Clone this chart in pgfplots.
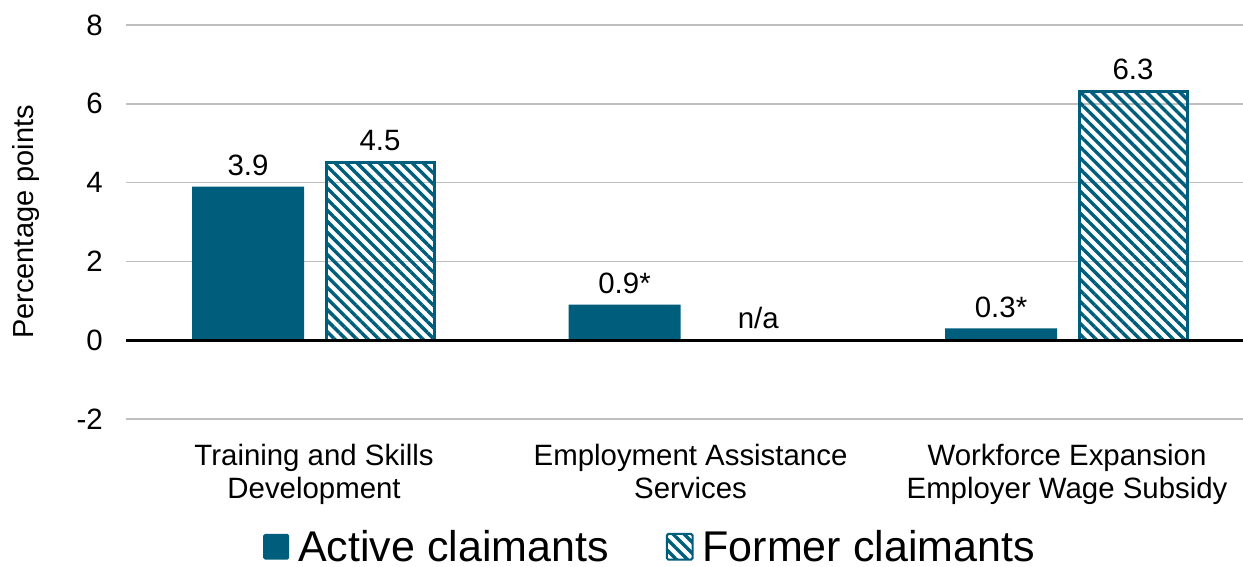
\documentclass[border=0pt]{standalone}
\usepackage{pgfplots}
\pgfplotsset{compat=1.18}
\usepackage{fontspec}
\setmainfont{Liberation Sans}
\usetikzlibrary{patterns.meta}
\definecolor{teal1}{RGB}{0,94,125}
\begin{document}
\begin{tikzpicture}
\useasboundingbox (-62.9pt,-74pt) rectangle (558.6pt,209.5pt);
\begin{axis}[
  scale only axis, width=564.75pt, height=197pt,
  xmin=-0.5, xmax=2.5, ymin=-2, ymax=8,
  ytick={-2,0,2,4,6,8},
  xtick={0,1,2},
  xticklabels={Training and Skills\\Development, Employment Assistance\\Services, Workforce Expansion\\Employer Wage Subsidy},
  xticklabel style={align=center, font=\fontsize{14.7}{16.8}\selectfont, yshift=-9pt},
  yticklabel style={font=\fontsize{14.7}{16}\selectfont, xshift=-8pt},
  /pgf/number format/assume math mode=true,
  axis line style={draw=none},
  major tick length=0pt,
  ymajorgrids, grid style={gray!50, line width=0.8pt},
  ylabel={Percentage points},
  ylabel style={font=\fontsize{14.5}{16}\selectfont, at={(axis description cs:-0.0885,0.5)}, anchor=center},
  ybar,
  nodes near coords, point meta=explicit symbolic,
  every node near coord/.append style={font=\fontsize{14.7}{16}\selectfont, color=black, yshift=2pt},
  legend style={draw=none, at={(axis description cs:0.465,-0.325)}, anchor=center, font=\fontsize{21.5}{24}\selectfont, legend columns=2, /tikz/every even column/.append style={column sep=26.5pt}, /tikz/every odd column/.append style={column sep=2.5pt}},
  legend image code/.code={\path[#1, line width=1pt, rounded corners=0.8pt] (-1pt,-0.22cm) rectangle (0.42cm,0.23cm);},
  clip=false,
]
\addplot[fill=teal1, draw=none, bar width=56pt, bar shift=-33pt] coordinates {(0,3.9) [3.9] (1,0.9) [0.9*] (2,0.3) [0.3*]};
\addplot[draw=teal1, line width=1.5pt, bar width=54pt, pattern={Lines[angle=-45,distance=3.9pt,line width=1.7pt]}, pattern color=teal1, bar shift=33pt] coordinates {(0,4.5) [4.5] (2,6.3) [6.3]};
\legend{Active claimants, Former claimants}
\draw[black, line width=1.6pt] (axis cs:-0.5,0) -- (axis cs:2.5,0);
\node[anchor=south, font=\fontsize{14.7}{16}\selectfont, yshift=2pt] at (axis cs:1.18,0) {n/a};
\end{axis}
\end{tikzpicture}
\end{document}
